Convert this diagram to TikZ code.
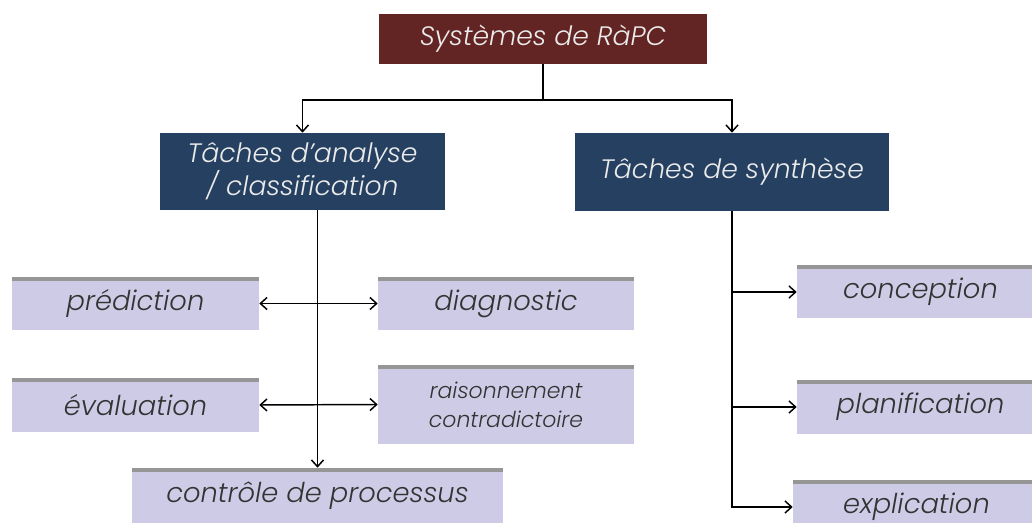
\documentclass[tikz,border=0pt]{standalone}
\usepackage{fontspec}
\setmainfont{Poppins}[ItalicFont={Poppins Light Italic}]
\usepackage{tikz}
\usetikzlibrary{shapes,arrows.meta,positioning}
\newlength\px
\setlength\px{0.75pt}
\definecolor{rouge}{RGB}{99, 37, 35}
\definecolor{marine}{RGB}{38, 64, 97}
\definecolor{lavande}{RGB}{206, 203, 230}
\definecolor{ombre}{RGB}{150, 150, 150}
\tikzstyle{head} = [rectangle, fill=rouge, text=white!92!black, font=\itshape\fontsize{20}{22.5}\selectfont, align=center, inner sep=0pt]
\tikzstyle{task} = [rectangle, fill=marine, text=white!92!black, font=\itshape\fontsize{20}{22.5}\selectfont, align=center, inner sep=0pt]
\tikzstyle{leaf} = [rectangle, fill=lavande, text=black!80, font=\itshape\fontsize{20.5}{22.5}\selectfont, align=center, inner sep=0pt,
  path picture={\fill[ombre] (path picture bounding box.north west) rectangle ([yshift=-4\px]path picture bounding box.north east);}]
\tikzstyle{small} = [font=\itshape\fontsize{16.5}{21.5}\selectfont]
\tikzstyle{tedge}  = [draw, line width=1.1pt, -{Straight Barb[length=5pt,width=9pt]}]
\tikzstyle{bedge}  = [draw, line width=1.1pt, {Straight Barb[length=5pt,width=9pt]}-{Straight Barb[length=5pt,width=9pt]}]

\begin{document}
\begin{tikzpicture}[x=\px, y=-\px]
\clip (0,0) rectangle (1032,523);

% top =============================
\node[head, minimum width=328\px, minimum height=50\px] (sys) at (543,39) {Systèmes de RàPC};
\coordinate (split) at (543,100);

% tasks
\node[task, minimum width=285\px, minimum height=77\px] (analyse) at (302.5,171.5) {Tâches d’analyse\\/ classification};
\node[task, minimum width=314\px, minimum height=78\px] (synthese) at (732,172) {Tâches de synthèse};

% analyse / classification
\node[leaf, minimum width=247\px, minimum height=53\px] (pred) at (135.5,303.5) {prédiction};
\node[leaf, minimum width=256\px, minimum height=53\px] (diag) at (506,303.5) {diagnostic};
\node[leaf, minimum width=247\px, minimum height=54\px] (eval) at (135.5,405) {évaluation};
\node[leaf, small, minimum width=256\px, minimum height=79\px] (raison) at (506,404.5) {raisonnement\\contradictoire};
\node[leaf, minimum width=371\px, minimum height=56\px] (ctrl) at (317.5,496) {contrôle de processus};

% synthese
\node[leaf, minimum width=247\px, minimum height=53\px] (concep) at (920.5,292) {conception};
\node[leaf, minimum width=247\px, minimum height=54\px] (planif) at (920.5,407) {planification};
\node[leaf, minimum width=247\px, minimum height=54\px] (explic) at (916.5,507) {explication};

%edges
\path[draw, line width=1.1pt] (sys.south) -- (split);
\path[tedge] (split) -| (analyse.north);
\path[tedge] (split) -| (synthese.north);

\path[tedge] (ctrl.north |- analyse.south) -- (ctrl.north);
\path[bedge] (pred.east) -- (diag.west);
\path[bedge] (eval.east) -- (raison.west);

\path[tedge] (synthese.south) |- (explic.west);
\path[tedge] (synthese.south |- concep.west) -- (concep.west);
\path[tedge] (synthese.south |- planif.west) -- (planif.west);

\end{tikzpicture}
\end{document}
